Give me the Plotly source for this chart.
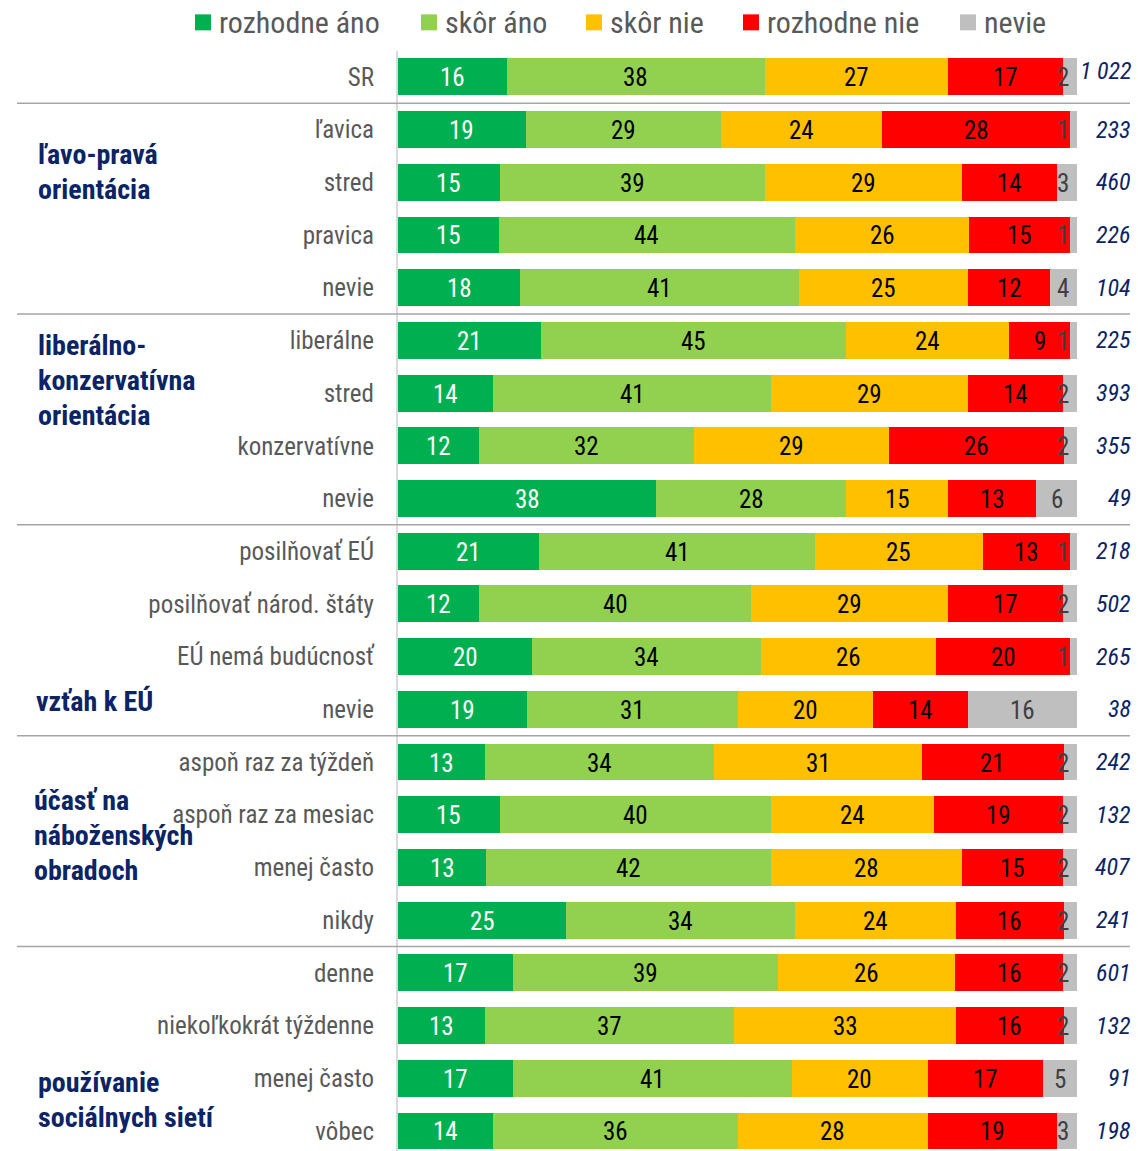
import plotly.graph_objects as go
import numpy as np

categories = ["SR",
              "ľavica", "stred", "pravica", "nevie",
              "liberálne", "stred", "konzervatívne", "nevie",
              "posilňovať EÚ", "posilňovať národ. štáty", "EÚ nemá budúcnosť", "nevie",
              "aspoň raz za týždeň", "aspoň raz za mesiac", "menej často", "nikdy",
              "denne", "niekoľkokrát týždenne", "menej často", "vôbec"]

series_names = ["rozhodne áno", "skôr áno", "skôr nie", "rozhodne nie", "nevie"]

rozhodne_ano = [16, 19, 15, 15, 18, 21, 14, 12, 38, 21, 12, 20, 19, 13, 15, 13, 25, 17, 13, 17, 14]
skor_ano     = [38, 29, 39, 44, 41, 45, 41, 32, 28, 41, 40, 34, 31, 34, 40, 42, 34, 39, 37, 41, 36]
skor_nie     = [27, 24, 29, 26, 25, 24, 29, 29, 15, 25, 29, 26, 20, 31, 24, 28, 24, 26, 33, 20, 28]
rozhodne_nie = [17, 28, 14, 15, 12,  9, 14, 26, 13, 13, 17, 20, 14, 21, 19, 15, 16, 16, 16, 17, 19]
nevie        = [ 2,  1,  3,  1,  4,  1,  2,  2,  6,  1,  2,  1, 16,  2,  2,  2,  2,  2,  2,  5,  3]

n_labels = ["1 022", "233", "460", "226", "104", "225", "393", "355", "49",
            "218", "502", "265", "38", "242", "132", "407", "241",
            "601", "132", "91", "198"]

groups = [
    (["ľavo-pravá", "orientácia"], 1.8, 36),
    (["liberálno-", "konzervatívna", "orientácia"], 5.77, 36),
    (["vzťah k EÚ"], 11.85, 34),
    (["účasť na", "náboženských", "obradoch"], 14.4, 32),
    (["používanie", "sociálnych sietí"], 19.42, 36),
]
separators = [0.5, 4.5, 8.5, 12.5, 16.5]

colors = ["#00B050", "#92D050", "#FFC000", "#FF0000", "#BFBFBF"]
text_colors = ["#FFFFFF", "#000000", "#000000", "#000000", "#404040"]

NARROW = "Liberation Sans Narrow, Arial Narrow, Roboto Condensed, Liberation Sans, sans-serif"
NAVY = "#0B2466"

data = np.array([rozhodne_ano, skor_ano, skor_nie, rozhodne_nie, nevie], dtype=float)
ypos = list(range(len(categories)))

fig = go.Figure()
for i, name in enumerate(series_names):
    fig.add_trace(go.Bar(
        y=ypos, x=data[i], orientation="h", name=name,
        marker=dict(color=colors[i], line=dict(width=0)),
        showlegend=False, hoverinfo="skip"))

# labels centered on each (normalised) segment, kept inside the plot area
totals = data.sum(axis=0)
cum = np.cumsum(data, axis=0) / totals * 100
for i in range(len(series_names)):
    mids = cum[i] - data[i] / totals * 100 / 2
    mids = np.minimum(mids, 97.9)
    for k in range(len(categories)):
        fig.add_annotation(x=mids[k], y=k, xref="x", yref="y", text=str(int(data[i][k])),
                           showarrow=False, xanchor="center", yanchor="middle", yshift=-1,
                           font=dict(family=NARROW, size=25, color=text_colors[i]))

L, R = 398, 1077
W = R - L
def px(x):
    return (x - L) / W

# n labels
for k, lab in enumerate(n_labels):
    fig.add_annotation(x=px(1133), y=k, xref="paper", yref="y", text=f"<i>{lab}</i>",
                       xanchor="right", yanchor="middle", showarrow=False,
                       yshift=6 if k == 0 else 0,
                       font=dict(family=NARROW, size=24, color=NAVY))

# group labels
LINE = 35 / 52.7
for lines, yc, xl in groups:
    nlines = len(lines)
    for j, t in enumerate(lines):
        yy = yc + (j - (nlines - 1) / 2) * LINE
        fig.add_annotation(x=px(xl), y=yy, xref="paper", yref="y", text=f"<b>{t}</b>",
                           xanchor="left", yanchor="middle", showarrow=False,
                           font=dict(family=NARROW, size=28, color=NAVY))

# separators
for s in separators:
    fig.add_shape(type="line", xref="paper", yref="y", x0=px(17), x1=px(1130), y0=s, y1=s,
                  line=dict(color="#A6A6A6", width=1.5))

# manual legend
legend_sq = [195, 421, 586, 743, 960]
for i, name in enumerate(series_names):
    x0 = legend_sq[i]
    fig.add_shape(type="rect", xref="paper", yref="paper",
                  x0=px(x0), x1=px(x0 + 16), y0=1 + (50.65 - 14) / 1100.35, y1=1 + (50.65 - 30) / 1100.35,
                  fillcolor=colors[i], line=dict(width=0))
    fig.add_annotation(x=px(x0 + 22), y=1 + (50.65 - 22) / 1100.35, xref="paper", yref="paper",
                       text=name, xanchor="left", yanchor="middle", showarrow=False,
                       font=dict(family=NARROW, size=30, color="#595959"))

fig.update_layout(
    width=1138, height=1151,
    margin=dict(l=L, r=1138 - R, t=50.65, b=0, autoexpand=False),
    barmode="stack", barnorm="percent", bargap=0.3,
    plot_bgcolor="white", paper_bgcolor="white",
    showlegend=False,
)
fig.update_xaxes(range=[0, 100], visible=False, fixedrange=True)
fig.update_yaxes(range=[20.38, -0.49], tickmode="array", tickvals=ypos, ticktext=categories,
                 tickfont=dict(family=NARROW, size=25, color="#595959"),
                 ticks="", showgrid=False, zeroline=False,
                 showline=True, linecolor="#D9D9D9", linewidth=2,
                 ticklabelstandoff=17, automargin=False)

fig.write_html("out.html", config={"displayModeBar": False},
               post_script="document.body.style.margin='0';document.body.style.overflow='hidden';")
